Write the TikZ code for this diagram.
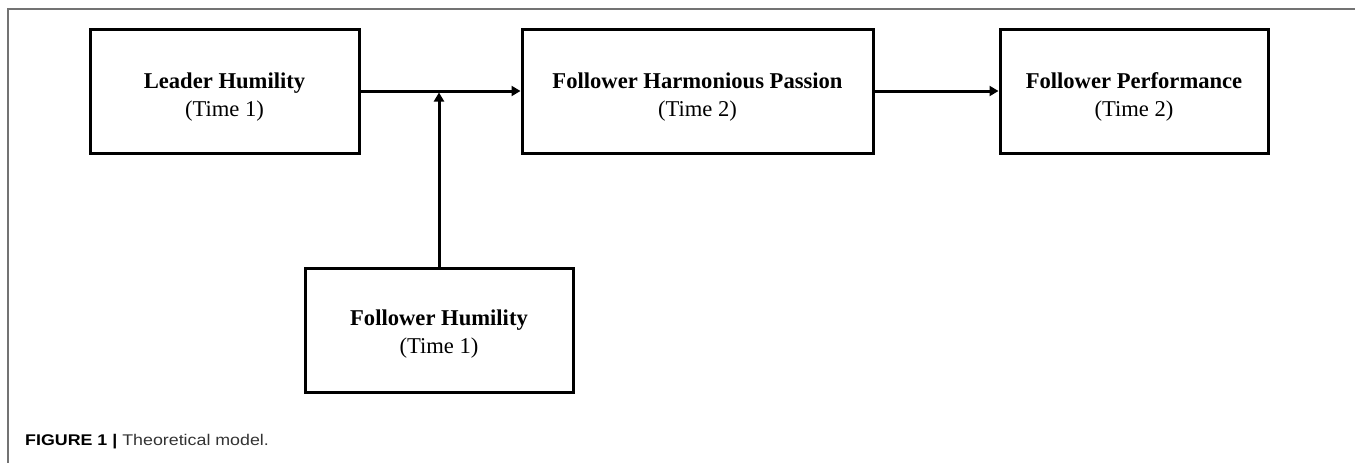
\documentclass[tikz,border=0pt]{standalone}
\usepackage{fontspec}
\setmainfont{Liberation Serif}
\newfontfamily\capfont[FakeStretch=1.15]{Liberation Sans}
\usetikzlibrary{arrows.meta}
\newcommand{\liftby}[1]{\rule{0pt}{#1pt}}
\tikzset{
  varbox/.style={draw=black, line width=3pt, minimum height=124pt, inner sep=0pt,
    align=center, font=\fontsize{22.6}{28}\selectfont},
  link/.style={line width=3pt, -{Triangle[length=9pt,width=10pt]}},
  frameline/.style={draw=black!55, line width=1.2pt},
  captext/.style={anchor=west, inner sep=0pt, font=\capfont\fontsize{15.5}{19}\selectfont, text=black!80}
}
\begin{document}
\begin{tikzpicture}[x=1pt,y=-1pt]
\useasboundingbox (0,0) rectangle (1355,463);
\fill[white] (0,0) rectangle (1355,463);
\draw[frameline] (8,463) -- (8,9) -- (1355,9);
\node[varbox, minimum width=269pt] (lh) at (224.5,91) {\liftby{27}\textbf{Leader Humility}\\(Time 1)};
\node[varbox, minimum width=351pt] (fhp) at (697.5,91) {\liftby{27}\textbf{Follower Harmonious Passion}\\(Time 2)};
\node[varbox, minimum width=268pt] (fp) at (1134,91) {\liftby{27}\textbf{Follower Performance}\\(Time 2)};
\node[varbox, minimum width=268pt] (fh) at (439,330) {\liftby{23}\textbf{Follower Humility}\\(Time 1)};
\coordinate (j) at (439,91);
\draw[link] (lh.east) -- (fhp.west);
\draw[link] (fhp.east) -- (fp.west);
\draw[link, shorten >=1.5pt] (fh.north) -- (j);
\node[captext] (cap) at (25,442) {\textbf{\color{black}FIGURE 1 |} Theoretical model.};
\end{tikzpicture}
\end{document}
